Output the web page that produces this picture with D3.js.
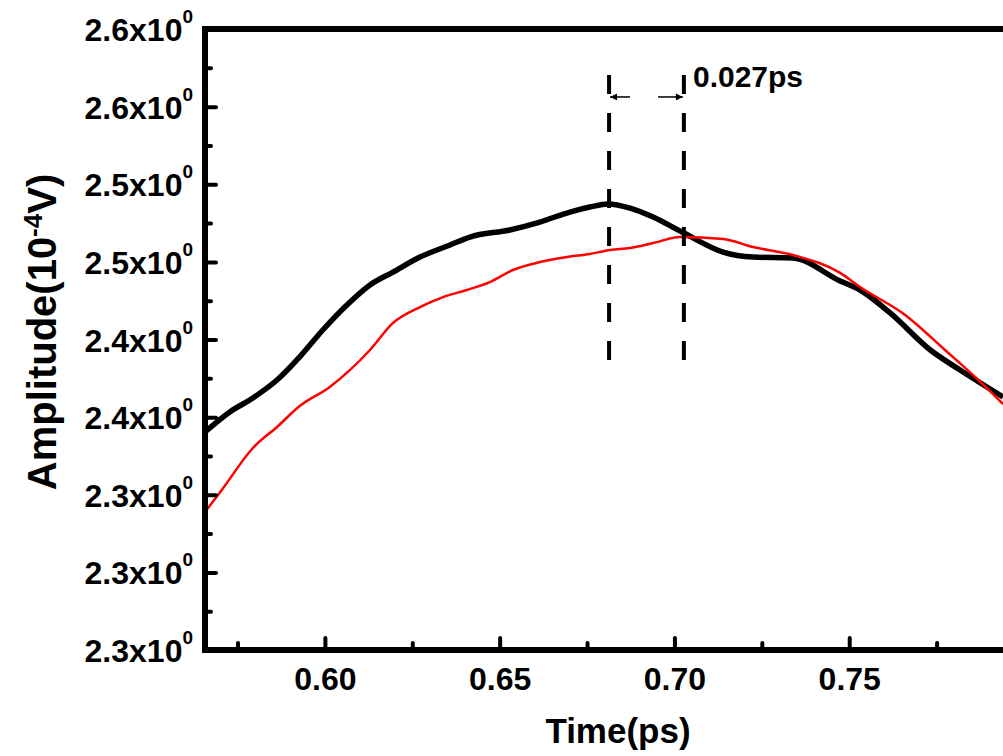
<!DOCTYPE html>
<html>
<head>
<meta charset="utf-8">
<script src="https://d3js.org/d3.v7.min.js"></script>
<style>
body { margin: 0; background: #fff; }
text { font-family: "Liberation Sans", Arial, sans-serif; font-weight: bold; fill: #000; }
</style>
</head>
<body>
<div id="my_dataviz"></div>
<script>
// black curve (thick)
var blackX = [0.5657, 0.5728, 0.5794, 0.5863, 0.5928, 0.5994, 0.6063, 0.6129, 0.6195, 0.6272,
              0.6358, 0.6415, 0.6529, 0.6615, 0.6701, 0.6758, 0.6810, 0.6873, 0.6939, 0.7027,
              0.7139, 0.7225, 0.7339, 0.7474, 0.7531, 0.7617, 0.7732, 0.7817, 0.7940];
var blackY = [2.3764, 2.3880, 2.3961, 2.4065, 2.4199, 2.4355, 2.4500, 2.4616, 2.4691, 2.4778,
              2.4848, 2.4894, 2.4935, 2.4981, 2.5039, 2.5068, 2.5086, 2.5062, 2.5010, 2.4917,
              2.4807, 2.4778, 2.4772, 2.4639, 2.4587, 2.4454, 2.4239, 2.4123, 2.3967];
// red curve (thin)
var redX = [0.5657, 0.5705, 0.5794, 0.5863, 0.5928, 0.6014, 0.6129, 0.6195, 0.6272, 0.6338,
            0.6406, 0.6472, 0.6538, 0.6615, 0.6693, 0.6758, 0.6816, 0.6873, 0.6939, 0.7016,
            0.7139, 0.7225, 0.7339, 0.7474, 0.7531, 0.7660, 0.7774, 0.7860, 0.7940];
var redY = [2.3300, 2.3428, 2.3671, 2.3793, 2.3914, 2.4025, 2.4239, 2.4396, 2.4488, 2.4546,
            2.4587, 2.4633, 2.4703, 2.4749, 2.4778, 2.4796, 2.4819, 2.4830, 2.4859, 2.4894,
            2.4883, 2.4836, 2.4790, 2.4686, 2.4604, 2.4442, 2.4239, 2.4083, 2.3926];

var xTicks = [0.60, 0.65, 0.70, 0.75];
var xTickLabels = ["0.60", "0.65", "0.70", "0.75"];
var xMinor = [0.575, 0.625, 0.675, 0.725, 0.775];
var yTicks = [2.25, 2.295, 2.34, 2.385, 2.43, 2.475, 2.52, 2.565, 2.61];
var yTickLabels = ["2.3", "2.3", "2.3", "2.4", "2.4", "2.5", "2.5", "2.6", "2.6"];
var yMinor = [2.2725, 2.3175, 2.3625, 2.4075, 2.4525, 2.4975, 2.5425, 2.5875];

// annotation: two peak positions
var markX = [0.6813, 0.7027];
var markText = "0.027ps";

var width = 1003, height = 756;
var mLeft = 205, mTop = 29, mRight = 1024, mBottom = 650;

var svg = d3.select("#my_dataviz")
    .append("svg")
    .attr("width", width)
    .attr("height", height);

var x = d3.scaleLinear().domain([0.5657, 0.80]).range([mLeft, mRight]);
var y = d3.scaleLinear().domain([2.25, 2.61]).range([mBottom, mTop]);

svg.append("clipPath").attr("id", "plot")
    .append("rect")
    .attr("x", mLeft).attr("y", mTop)
    .attr("width", mRight - mLeft).attr("height", mBottom - mTop);

// curves
var black = blackX.map(function(d, i) { return [d, blackY[i]]; });
var red = redX.map(function(d, i) { return [d, redY[i]]; });
var line = d3.line()
    .x(function(d) { return x(d[0]); })
    .y(function(d) { return y(d[1]); })
    .curve(d3.curveMonotoneX);

var g = svg.append("g").attr("clip-path", "url(#plot)");
g.append("path").datum(black)
    .attr("d", line)
    .attr("fill", "none")
    .attr("stroke", "#000")
    .attr("stroke-width", 5.5)
    .attr("stroke-linejoin", "round");
g.append("path").datum(red)
    .attr("d", line)
    .attr("fill", "none")
    .attr("stroke", "#ff0000")
    .attr("stroke-width", 2.5)
    .attr("stroke-linejoin", "round");

// dashed marker lines
svg.selectAll(".mark")
    .data(markX)
    .enter()
    .append("line")
    .attr("x1", function(d) { return x(d); })
    .attr("x2", function(d) { return x(d); })
    .attr("y1", y(2.5833))
    .attr("y2", y(2.417))
    .attr("stroke", "#000")
    .attr("stroke-width", 4)
    .attr("stroke-dasharray", "19,19");

// arrows
svg.append("defs").append("marker")
    .attr("id", "arr")
    .attr("viewBox", "0 0 10 10")
    .attr("refX", 10).attr("refY", 5)
    .attr("markerWidth", 10).attr("markerHeight", 7)
    .attr("markerUnits", "userSpaceOnUse")
    .attr("orient", "auto")
    .append("path")
    .attr("d", "M0,0L10,5L0,10Z")
    .attr("fill", "#000");
var ay = y(2.5706);
svg.append("line")
    .attr("x1", x(0.6873)).attr("x2", x(markX[0]) + 1)
    .attr("y1", ay).attr("y2", ay)
    .attr("stroke", "#000").attr("stroke-width", 1.5)
    .attr("marker-end", "url(#arr)");
svg.append("line")
    .attr("x1", x(0.6953)).attr("x2", x(markX[1]) - 1)
    .attr("y1", ay).attr("y2", ay)
    .attr("stroke", "#000").attr("stroke-width", 1.5)
    .attr("marker-end", "url(#arr)");
svg.append("text")
    .attr("x", x(0.7053))
    .attr("y", y(2.5764))
    .style("font-size", "30px")
    .text(markText);

// frame
svg.append("rect")
    .attr("x", mLeft).attr("y", mTop)
    .attr("width", mRight - mLeft).attr("height", mBottom - mTop)
    .attr("fill", "none")
    .attr("stroke", "#000")
    .attr("stroke-width", 6);

// x axis, ticks pointing in
var xAxis = svg.append("g")
    .attr("transform", "translate(0," + mBottom + ")")
    .call(d3.axisBottom(x).tickValues(xTicks).tickSizeInner(-12).tickSizeOuter(0)
        .tickFormat(function(d, i) { return xTickLabels[i]; }));
xAxis.select(".domain").remove();
xAxis.selectAll("text").attr("y", 40).attr("dy", 0)
    .style("font-size", "32px").attr("font-family", null);
svg.append("g")
    .attr("transform", "translate(0," + mBottom + ")")
    .call(d3.axisBottom(x).tickValues(xMinor).tickSizeInner(-7).tickSizeOuter(0).tickFormat(""))
    .select(".domain").remove();

// y axis
var yAxis = svg.append("g")
    .attr("transform", "translate(" + mLeft + ",0)")
    .call(d3.axisLeft(y).tickValues(yTicks).tickSizeInner(-11).tickSizeOuter(0).tickPadding(12));
yAxis.select(".domain").remove();
yAxis.selectAll("text")
    .attr("dy", "0.36em")
    .style("font-size", "32px")
    .attr("font-family", null)
    .text(null)
    .each(function(d, i) {
        var t = d3.select(this);
        t.append("tspan").text(yTickLabels[i] + "x10");
        t.append("tspan").attr("dy", "-18").style("font-size", "19px").text("0");
    });
svg.append("g")
    .attr("transform", "translate(" + mLeft + ",0)")
    .call(d3.axisLeft(y).tickValues(yMinor).tickSizeInner(-6).tickSizeOuter(0).tickFormat(""))
    .select(".domain").remove();

svg.selectAll(".tick line")
    .attr("stroke-width", 4)
    .attr("stroke-linecap", "round");

// axis titles
svg.append("text")
    .attr("x", 618)
    .attr("y", 743)
    .attr("text-anchor", "middle")
    .style("font-size", "35px")
    .text("Time(ps)");

var yt = svg.append("text")
    .attr("transform", "translate(56,332) rotate(-90)")
    .attr("text-anchor", "middle")
    .style("font-size", "40px");
yt.append("tspan").text("Amplitude(10");
yt.append("tspan").attr("dy", "-14").style("font-size", "26px").text("-4");
yt.append("tspan").attr("dy", "14").text("V)");
</script>
</body>
</html>
